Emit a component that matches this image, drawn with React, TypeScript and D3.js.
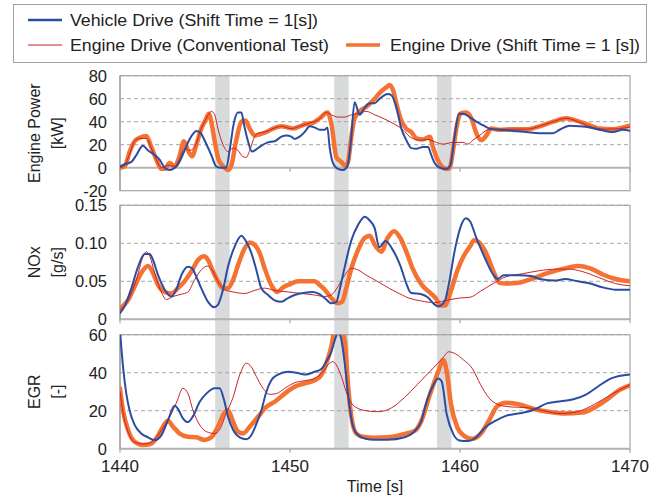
import React from 'react';
import * as d3 from 'd3';

type Pt = [number, number];

// time [s] / value pairs
const powerVehicle: Pt[] = [
  [1440.0, 1], [1440.27, 3], [1440.67, 5], [1440.96, 11], [1441.35, 19], [1441.65, 15], [1442.04, 11], [1442.33, 7],
  [1442.63, 0], [1442.92, -2], [1443.22, 0], [1443.5, 5], [1443.8, 15], [1444.1, 25], [1444.5, 32], [1444.75, 30],
  [1445.0, 23], [1445.37, 11], [1445.67, 1], [1445.96, 0], [1446.25, 0], [1446.45, 15], [1446.7, 39], [1446.94, 48],
  [1447.14, 48], [1447.3, 37], [1447.53, 23], [1447.76, 14], [1448.02, 16], [1448.3, 19], [1448.7, 22], [1449.1, 23],
  [1449.5, 27], [1449.78, 28], [1450.08, 27], [1450.27, 25], [1450.57, 27], [1450.86, 31], [1451.16, 36], [1451.45, 35],
  [1451.75, 33], [1452.04, 33], [1452.2, 35], [1452.33, 18], [1452.53, 4], [1452.82, -1], [1453.12, -2], [1453.37, 1],
  [1453.57, 21], [1453.8, 57], [1454.1, 46], [1454.39, 52], [1454.69, 56], [1454.98, 56], [1455.27, 60], [1455.76, 64],
  [1455.96, 63], [1456.25, 53], [1456.55, 34], [1456.84, 24], [1457.14, 17], [1457.43, 16.5], [1457.82, 18], [1458.12, 18],
  [1458.31, 11], [1458.51, 4], [1458.8, 0], [1459.2, -1], [1459.43, 2], [1459.68, 27], [1459.94, 47], [1460.17, 47],
  [1460.57, 44], [1460.96, 40], [1461.35, 37], [1461.74, 34], [1462.33, 33], [1463.12, 32], [1463.9, 31], [1464.68, 30],
  [1465.47, 30], [1465.86, 33], [1466.45, 36.5], [1467.04, 36], [1467.63, 35], [1468.22, 33], [1469.0, 31], [1469.59, 33],
  [1470, 32],
];
const powerConventional: Pt[] = [
  [1440, 0], [1440.27, 2], [1440.57, 12], [1440.86, 23], [1441.16, 25.5], [1441.55, 25.5], [1441.84, 17], [1442.14, 7],
  [1442.43, 0], [1442.82, 2], [1443.22, 1], [1443.5, 8], [1443.8, 17], [1444.1, 15], [1444.39, 18], [1444.78, 34],
  [1445.08, 43], [1445.37, 49], [1445.57, 46], [1445.76, 34], [1446.06, 20], [1446.35, 14], [1446.65, 17], [1446.94, 15],
  [1447.24, 9.5], [1447.43, 9], [1447.63, 15], [1447.92, 27], [1448.12, 30], [1448.51, 31], [1449.0, 34], [1449.49, 36],
  [1450.08, 34], [1450.57, 36], [1451.06, 38.5], [1451.65, 41.5], [1452.14, 48], [1452.43, 46], [1452.82, 44], [1453.22, 44],
  [1453.61, 46], [1454.0, 47], [1454.49, 49], [1454.98, 46], [1455.47, 43], [1456.06, 38.5], [1456.65, 33], [1457.04, 27],
  [1457.63, 24], [1458.12, 24.5], [1458.61, 22], [1459.0, 20.5], [1459.59, 22], [1460.17, 22], [1460.47, 20.5], [1460.76, 24],
  [1461.15, 28], [1461.65, 33], [1462.33, 33.5], [1463.12, 33.5], [1463.9, 33.5], [1464.68, 36], [1465.47, 40], [1466.25, 43],
  [1467.04, 39.5], [1467.82, 35], [1468.61, 33.5], [1469.39, 34], [1470, 35.5],
];
const powerEngine: Pt[] = [
  [1440, 0], [1440.27, 1], [1440.57, 14], [1440.86, 23], [1441.16, 26], [1441.55, 27.5], [1441.84, 18], [1442.14, 7],
  [1442.43, -1], [1442.63, -1], [1442.92, 4], [1443.22, 1], [1443.5, 10], [1443.76, 23], [1444.0, 15], [1444.24, 10],
  [1444.49, 20], [1444.78, 34], [1445.02, 41], [1445.22, 47], [1445.37, 40], [1445.57, 23], [1445.8, 7], [1446.06, 1.5],
  [1446.35, -2], [1446.55, 2], [1446.84, 24], [1447.14, 40], [1447.37, 41], [1447.63, 34], [1447.92, 28], [1448.22, 29],
  [1448.61, 31], [1449.0, 34], [1449.5, 36], [1449.88, 35], [1450.18, 34], [1450.57, 36], [1450.96, 38], [1451.35, 39],
  [1451.75, 43], [1452.2, 48], [1452.43, 38.5], [1452.73, 9], [1453.02, 5], [1453.25, 1.5], [1453.41, 5], [1453.61, 27],
  [1453.8, 43], [1454.1, 49], [1454.49, 53], [1454.98, 60], [1455.27, 65], [1455.67, 70], [1455.86, 72], [1456.06, 67.5],
  [1456.25, 56], [1456.55, 41], [1456.84, 34], [1457.14, 31], [1457.43, 25.5], [1457.82, 24.5], [1458.22, 27], [1458.41, 18],
  [1458.65, 8], [1458.9, 1.5], [1459.2, -1], [1459.39, -0.5], [1459.59, 15], [1459.82, 37], [1460.02, 47], [1460.37, 48],
  [1460.67, 43], [1460.96, 30], [1461.25, 24], [1461.55, 28], [1461.84, 34], [1462.33, 33], [1463.12, 33.5], [1463.9, 33.5],
  [1464.68, 36], [1465.47, 40], [1466.25, 43], [1466.84, 41], [1467.43, 38], [1468.22, 34], [1469.0, 33.5], [1469.59, 35],
  [1470, 36.5],
];

const noxVehicle: Pt[] = [
  [1440, 0.008], [1440.27, 0.017], [1440.67, 0.041], [1441.06, 0.069], [1441.45, 0.086], [1441.75, 0.086], [1441.94, 0.078],
  [1442.24, 0.058], [1442.63, 0.039], [1443.02, 0.03], [1443.31, 0.039], [1443.61, 0.058], [1444.0, 0.069], [1444.24, 0.067],
  [1444.49, 0.056], [1444.78, 0.041], [1445.18, 0.023], [1445.53, 0.016], [1445.76, 0.019], [1446.06, 0.039], [1446.35, 0.069],
  [1446.75, 0.096], [1447.14, 0.11], [1447.43, 0.102], [1447.73, 0.087], [1448.02, 0.065], [1448.31, 0.041], [1448.71, 0.032],
  [1449.1, 0.025], [1449.49, 0.023], [1449.88, 0.028], [1450.27, 0.032], [1450.86, 0.035], [1451.35, 0.036], [1451.65, 0.034],
  [1452.04, 0.028], [1452.43, 0.021], [1452.73, 0.023], [1452.92, 0.039], [1453.22, 0.069], [1453.61, 0.104], [1454.0, 0.124],
  [1454.39, 0.135], [1454.69, 0.13], [1454.98, 0.12], [1455.25, 0.095], [1455.62, 0.103], [1456.0, 0.093], [1456.5, 0.07],
  [1456.86, 0.046], [1457.1, 0.035], [1457.73, 0.033], [1458.1, 0.029], [1458.48, 0.02], [1458.72, 0.017], [1459.1, 0.024],
  [1459.34, 0.046], [1459.72, 0.094], [1460.09, 0.125], [1460.34, 0.133], [1460.59, 0.129], [1460.96, 0.107], [1461.46, 0.081],
  [1461.95, 0.059], [1462.2, 0.053], [1462.57, 0.058], [1463.44, 0.058], [1464.19, 0.057], [1464.68, 0.053], [1465.68, 0.051],
  [1466.17, 0.053], [1466.92, 0.05], [1467.66, 0.047], [1468.4, 0.042], [1469.15, 0.039], [1470, 0.039],
];
const noxConventional: Pt[] = [
  [1440, 0.012], [1440.47, 0.025], [1440.96, 0.052], [1441.35, 0.082], [1441.55, 0.089], [1441.75, 0.083], [1442.04, 0.061],
  [1442.43, 0.036], [1442.73, 0.026], [1443.12, 0.03], [1443.61, 0.033], [1444.0, 0.036], [1444.39, 0.052], [1444.78, 0.065],
  [1445.14, 0.07], [1445.47, 0.063], [1445.76, 0.05], [1446.16, 0.039], [1446.65, 0.036], [1447.33, 0.034], [1447.92, 0.038],
  [1448.51, 0.041], [1449.1, 0.038], [1449.88, 0.036], [1450.67, 0.034], [1451.45, 0.032], [1452.04, 0.03], [1452.43, 0.032],
  [1452.82, 0.043], [1453.22, 0.058], [1453.61, 0.067], [1454.0, 0.065], [1454.49, 0.058], [1454.98, 0.052], [1455.5, 0.045],
  [1456.24, 0.036], [1456.99, 0.028], [1457.73, 0.024], [1458.48, 0.022], [1459.22, 0.025], [1459.97, 0.028], [1460.59, 0.029],
  [1461.21, 0.037], [1461.95, 0.047], [1462.7, 0.056], [1463.69, 0.06], [1464.68, 0.064], [1465.68, 0.066], [1466.42, 0.066],
  [1467.17, 0.063], [1468.16, 0.055], [1469.15, 0.047], [1470, 0.044],
];
const noxEngine: Pt[] = [
  [1440, 0.014], [1440.47, 0.025], [1440.86, 0.043], [1441.25, 0.061], [1441.65, 0.07], [1441.94, 0.061], [1442.24, 0.045],
  [1442.63, 0.036], [1443.02, 0.034], [1443.41, 0.041], [1443.8, 0.05], [1444.2, 0.063], [1444.59, 0.078], [1444.94, 0.083],
  [1445.18, 0.078], [1445.47, 0.063], [1445.76, 0.05], [1446.06, 0.041], [1446.35, 0.041], [1446.65, 0.052], [1446.94, 0.071],
  [1447.24, 0.089], [1447.63, 0.101], [1447.92, 0.098], [1448.22, 0.087], [1448.51, 0.067], [1448.9, 0.045], [1449.25, 0.036],
  [1449.59, 0.042], [1449.98, 0.046], [1450.47, 0.05], [1451.06, 0.05], [1451.45, 0.05], [1451.75, 0.045], [1452.04, 0.039],
  [1452.43, 0.028], [1452.82, 0.021], [1453.06, 0.023], [1453.31, 0.041], [1453.61, 0.067], [1454.0, 0.091], [1454.39, 0.107],
  [1454.69, 0.11], [1454.98, 0.098], [1455.37, 0.089], [1455.74, 0.107], [1456.12, 0.116], [1456.49, 0.107], [1456.86, 0.088],
  [1457.23, 0.066], [1457.73, 0.046], [1458.23, 0.035], [1458.6, 0.027], [1458.85, 0.018], [1459.1, 0.018], [1459.47, 0.038],
  [1459.84, 0.064], [1460.21, 0.083], [1460.59, 0.096], [1460.83, 0.104], [1461.21, 0.099], [1461.58, 0.085], [1461.95, 0.064],
  [1462.32, 0.048], [1462.7, 0.047], [1463.44, 0.048], [1464.19, 0.053], [1465.18, 0.061], [1466.17, 0.067], [1466.92, 0.07],
  [1467.66, 0.067], [1468.4, 0.059], [1469.15, 0.053], [1470, 0.05],
];

const egrVehicle: Pt[] = [
  [1440, 62], [1440.18, 43], [1440.37, 29], [1440.57, 20], [1440.86, 12.5], [1441.25, 8], [1441.65, 6], [1442.04, 4.5],
  [1442.43, 7], [1442.82, 15], [1443.22, 22.6], [1443.41, 21], [1443.7, 16], [1444.0, 14], [1444.29, 17], [1444.69, 24.7],
  [1445.08, 29], [1445.57, 31.8], [1445.86, 31.8], [1446.12, 25.6], [1446.35, 17], [1446.65, 10], [1447.04, 6], [1447.43, 5],
  [1447.73, 7.2], [1448.02, 13], [1448.31, 20], [1448.61, 30], [1448.9, 36], [1449.29, 39], [1449.88, 40.5], [1450.37, 40],
  [1450.86, 39], [1451.45, 40.5], [1451.84, 42], [1452.14, 46], [1452.43, 51], [1452.63, 57], [1452.82, 61], [1452.98, 59],
  [1453.22, 45], [1453.45, 25.6], [1453.71, 11.6], [1454.0, 7.2], [1454.39, 5.4], [1454.98, 4.7], [1455.74, 4.7], [1456.74, 6],
  [1457.36, 9.5], [1457.73, 14.7], [1457.98, 23], [1458.35, 32], [1458.72, 37], [1458.92, 35.5], [1459.22, 18], [1459.6, 7.8],
  [1459.97, 4.3], [1460.46, 4], [1460.96, 6], [1461.46, 11], [1462.08, 14.7], [1462.7, 17.3], [1463.44, 18.5], [1464.19, 20],
  [1465.18, 24], [1465.93, 25], [1466.67, 26], [1467.41, 28.5], [1468.16, 33], [1468.9, 37], [1470, 39],
];
const egrConventional: Pt[] = [
  [1440, 30], [1440.18, 19], [1440.47, 9], [1440.86, 3.5], [1441.35, 2.5], [1441.75, 3], [1442.14, 6], [1442.53, 11],
  [1442.82, 15], [1443.31, 24], [1443.7, 31.8], [1444.0, 29], [1444.29, 20.3], [1444.69, 12.5], [1445.08, 9], [1445.57, 8],
  [1445.86, 10], [1446.25, 18.6], [1446.65, 27], [1447.04, 38.8], [1447.43, 45], [1447.73, 43], [1448.02, 38], [1448.41, 31.8],
  [1448.8, 28.6], [1449.2, 29], [1449.69, 31.8], [1450.27, 34.7], [1450.86, 35.8], [1451.45, 37], [1451.94, 40.5], [1452.33, 45],
  [1452.53, 45.8], [1452.73, 44], [1453.02, 38], [1453.31, 30], [1453.61, 24], [1454.0, 21.2], [1454.49, 20], [1454.98, 19.5],
  [1455.25, 19.5], [1455.99, 21.6], [1456.74, 27], [1457.48, 33.7], [1458.23, 40.6], [1458.97, 47.6], [1459.34, 51], [1459.72, 50],
  [1460.21, 46.7], [1460.71, 42.4], [1461.21, 33.7], [1461.7, 26.8], [1462.2, 23.4], [1462.95, 22], [1463.94, 21.6], [1464.93, 19.9],
  [1465.93, 18.5], [1466.92, 19.5], [1467.91, 23.4], [1468.9, 28.5], [1470, 33.7],
];
const egrEngine: Pt[] = [
  [1440, 31.8], [1440.18, 20], [1440.47, 10], [1440.86, 3.7], [1441.35, 2], [1441.75, 2.3], [1442.14, 5.4], [1442.53, 11.6],
  [1442.82, 14.7], [1443.12, 11.6], [1443.5, 8], [1444.0, 6.3], [1444.49, 6], [1444.98, 4.6], [1445.37, 6], [1445.76, 11.6],
  [1446.12, 18.6], [1446.35, 20.3], [1446.65, 14.2], [1446.94, 9], [1447.24, 8], [1447.63, 11.6], [1448.12, 16.8], [1448.61, 22],
  [1449.1, 24.7], [1449.69, 29], [1450.27, 32.6], [1450.86, 34.4], [1451.45, 36], [1451.84, 38.8], [1452.14, 45], [1452.43, 53.7],
  [1452.63, 62], [1453.02, 62], [1453.22, 57], [1453.41, 34], [1453.61, 16.8], [1453.9, 8], [1454.29, 6.3], [1454.98, 5.8],
  [1455.74, 6], [1456.74, 7.8], [1457.36, 9.5], [1457.73, 14.7], [1458.23, 28.5], [1458.72, 40.6], [1459.02, 46.7], [1459.22, 40.6],
  [1459.47, 23.4], [1459.84, 11.2], [1460.21, 7], [1460.71, 5.2], [1461.21, 7.8], [1461.7, 14.7], [1462.2, 22.5], [1462.7, 24.2],
  [1463.44, 23.4], [1464.19, 21.3], [1465.18, 19.4], [1466.17, 18.5], [1467.17, 19], [1467.91, 21.6], [1468.66, 26], [1469.4, 31],
  [1470, 33.4],
];

// gear shift windows (gray bands)
const shiftBands: [number, number][] = [[1445.6, 1446.45], [1452.6, 1453.45], [1458.65, 1459.5]];

const xTicks = [1440, 1450, 1460, 1470];
const powerTicks = [80, 60, 40, 20, 0, -20];
const noxTicks = [0.15, 0.1, 0.05, 0];
const egrTicks = [60, 40, 20, 0];

const legendLabels = [
  'Vehicle Drive (Shift Time = 1[s])',
  'Engine Drive (Conventional Test)',
  'Engine Drive (Shift Time = 1 [s])',
];

const BLUE = '#2b4ca0';
const RED = '#c8232c';
const ORANGE = '#f47232';
const FONT = '"Liberation Sans", Arial, sans-serif';

const W = 662;
const H = 497;
const left = 120;
const right = 630;

const x = d3.scaleLinear().domain([1440, 1470]).range([left, right]);

const panels = [
  {
    id: 'p',
    top: 75.7, bottom: 190.7, domain: [-20, 80], ticks: powerTicks, axisAt: 0,
    fmt: (v: number) => String(v), title: ['Engine Power', '[kW]'],
    series: [powerEngine, powerConventional, powerVehicle],
  },
  {
    id: 'n',
    top: 205.3, bottom: 319.3, domain: [0, 0.15], ticks: noxTicks, axisAt: 0,
    fmt: (v: number) => (v === 0 ? '0' : v.toFixed(2)), title: ['NOx', '[g/s]'],
    series: [noxEngine, noxConventional, noxVehicle],
  },
  {
    id: 'e',
    top: 334.7, bottom: 448.7, domain: [0, 60], ticks: egrTicks, axisAt: 0,
    fmt: (v: number) => String(v), title: ['EGR', '[-]'],
    series: [egrEngine, egrConventional, egrVehicle],
  },
];

const seriesStyle = [
  { color: ORANGE, width: 4.5 },
  { color: RED, width: 1 },
  { color: BLUE, width: 2 },
];

export default function App() {
  const bandTop = panels[0].top;
  const bandBottom = panels[2].bottom;
  return (
    <svg width={W} height={H} style={{ position: 'absolute', left: 0, top: 0, background: '#fff' }} fontFamily={FONT}>
      <defs>
        {panels.map(p => (
          <clipPath id={`clip-${p.id}`} key={p.id}>
            <rect x={left} y={p.top} width={right - left} height={p.bottom - p.top} />
          </clipPath>
        ))}
      </defs>

      {/* legend */}
      <rect x={13.5} y={4.5} width={633} height={58} fill="#fff" stroke="#a0a0a0" />
      <line x1={28} x2={62} y1={20} y2={20} stroke={BLUE} strokeWidth={2.5} />
      <text x={70} y={25.5} fontSize={16} fill="#222" textLength={248} lengthAdjust="spacingAndGlyphs">{legendLabels[0]}</text>
      <line x1={28} x2={62} y1={45} y2={45} stroke={RED} strokeWidth={1.2} />
      <text x={70} y={50.5} fontSize={16} fill="#222" textLength={259} lengthAdjust="spacingAndGlyphs">{legendLabels[1]}</text>
      <line x1={346} x2={380} y1={45} y2={45} stroke={ORANGE} strokeWidth={3.5} />
      <text x={390} y={50.5} fontSize={16} fill="#222" textLength={250} lengthAdjust="spacingAndGlyphs">{legendLabels[2]}</text>

      {/* shift bands */}
      {shiftBands.map(([a, b], i) => (
        <rect key={i} x={x(a)} y={bandTop} width={x(b) - x(a)} height={bandBottom - bandTop} fill="#d9dadc" />
      ))}

      {panels.map(p => {
        const y = d3.scaleLinear().domain(p.domain).range([p.bottom, p.top]);
        const line = d3.line<Pt>().x(d => x(d[0])).y(d => y(d[1])).curve(d3.curveMonotoneX);
        const axisY = y(p.axisAt);
        return (
          <g key={p.id}>
            <rect x={left} y={p.top} width={right - left} height={p.bottom - p.top} fill="none" stroke="#a6a6a6" strokeWidth={1.2} />
            {p.ticks.filter(t => t !== p.axisAt && y(t) > p.top + 1 && y(t) < p.bottom - 1).map(t => (
              <line key={t} x1={left} x2={right} y1={y(t)} y2={y(t)} stroke="#a6a6a6" strokeDasharray="4,3" />
            ))}
            <line x1={left} x2={right} y1={y(p.domain[1])} y2={y(p.domain[1])} stroke="#a6a6a6" strokeDasharray="4,3" />
            <line x1={left} x2={right} y1={axisY} y2={axisY} stroke="#b4b4b4" strokeWidth={2} />
            {xTicks.map(t => (
              <line key={t} x1={x(t)} x2={x(t)} y1={axisY} y2={axisY + 4} stroke="#a6a6a6" strokeWidth={1.2} />
            ))}
            <line x1={left} x2={left} y1={p.top} y2={p.bottom} stroke="#a6a6a6" strokeWidth={1.5} />
            {p.ticks.map(t => (
              <text key={t} x={107} y={y(t)} dy="0.36em" textAnchor="end" fontSize={16.5} fill="#222">{p.fmt(t)}</text>
            ))}
            <g clipPath={`url(#clip-${p.id})`}>
              {p.series.map((s, i) => (
                <path key={i} d={line(s) || ''} fill="none" stroke={seriesStyle[i].color} strokeWidth={seriesStyle[i].width}
                  strokeLinejoin="round" strokeLinecap="round" />
              ))}
            </g>
            <text transform={`translate(34,${(p.top + p.bottom) / 2}) rotate(-90)`} textAnchor="middle" dy="0.36em" fontSize={16} fill="#222">{p.title[0]}</text>
            <text transform={`translate(57,${(p.top + p.bottom) / 2}) rotate(-90)`} textAnchor="middle" dy="0.36em" fontSize={16} fill="#222">{p.title[1]}</text>
          </g>
        );
      })}

      {xTicks.map(t => (
        <text key={t} x={x(t)} y={472} textAnchor="middle" fontSize={17} fill="#222">{t}</text>
      ))}
      <text x={(left + right) / 2} y={492} textAnchor="middle" fontSize={16} fill="#222">Time [s]</text>
    </svg>
  );
}
